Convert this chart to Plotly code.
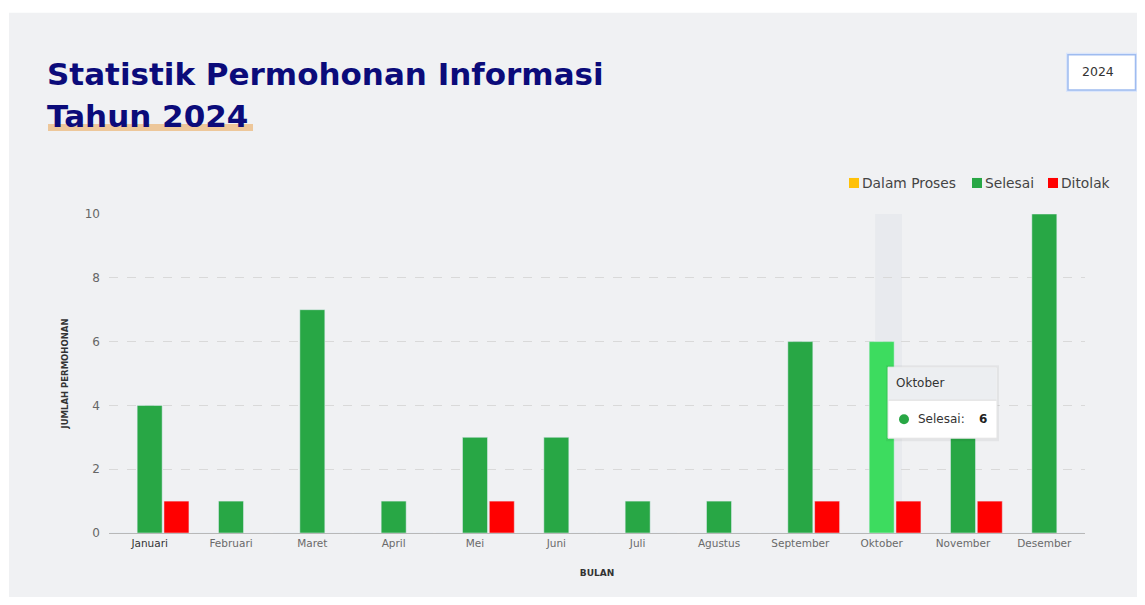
import plotly.graph_objects as go

months = ["Januari", "Februari", "Maret", "April", "Mei", "Juni", "Juli",
          "Agustus", "September", "Oktober", "November", "Desember"]
dalam_proses = [0, 0, 0, 0, 0, 0, 0, 0, 0, 0, 0, 0]
selesai = [4, 1, 7, 1, 3, 3, 1, 1, 6, 6, 3, 10]
ditolak = [1, 0, 0, 0, 1, 0, 0, 0, 1, 1, 1, 0]
y_ticks = [0, 2, 4, 6, 8, 10]

OFF = 8  # browser body margin
W, H = 1145 - OFF, 605 - 2 * OFF
L, T = 109 - OFF, 214 - OFF
R = W - L - 976
B = (605 - OFF) - 532.7
PW, PH = W - L - R, H - T - B


def xp(px):
    return (px - OFF - L) / PW


def yp(py):
    return (H - B - (py - OFF)) / PH


FONT = "DejaVu Sans, sans-serif"
C_Y, C_G, C_R = "#ffc107", "#28a745", "#ff0000"
hover_idx = months.index("Oktober")
green_colors = ["#3ddc5f" if i == hover_idx else C_G for i in range(len(months))]
tick_text = ["<span style='color:#333333'>%s</span>" % m if i == 0 else m for i, m in enumerate(months)]

fig = go.Figure()
fig.add_trace(go.Bar(x=months, y=dalam_proses, name="Dalam Proses", marker_color=C_Y))
fig.add_trace(go.Bar(x=months, y=selesai, name="Selesai", marker_color=green_colors))
fig.add_trace(go.Bar(x=months, y=ditolak, name="Ditolak", marker_color=C_R))

shapes = []
annotations = []

# page background panel
shapes.append(dict(type="rect", xref="paper", yref="paper", x0=xp(9), x1=xp(1150),
                   y0=yp(610), y1=yp(13), fillcolor="#f0f1f3", line_width=0, layer="below"))
# hover band
shapes.append(dict(type="rect", xref="x", yref="paper", x0=hover_idx - 0.08, x1=hover_idx + 0.25,
                   y0=0, y1=1, fillcolor="#e8eaee", line_width=0, layer="below"))
# title underline highlight
shapes.append(dict(type="rect", xref="paper", yref="paper", x0=xp(48), x1=xp(253),
                   y0=yp(131), y1=yp(124), fillcolor="#ecc089", opacity=0.85, line_width=0, layer="below"))

# titles
TFONT = dict(family=FONT, size=31, color="#0b0b7a")
annotations.append(dict(text="<b>Statistik Permohonan Informasi</b>", xref="paper", yref="paper",
                        x=xp(45), y=yp(74), xanchor="left", yanchor="middle", showarrow=False,
                        font=TFONT))
annotations.append(dict(text="<b>Tahun 2024</b>", xref="paper", yref="paper",
                        x=xp(45), y=yp(116), xanchor="left", yanchor="middle", showarrow=False,
                        font=TFONT))

# dropdown box
shapes.append(dict(type="rect", xref="paper", yref="paper", x0=xp(1066), x1=xp(1137),
                   y0=yp(92), y1=yp(53), fillcolor="#dbe6fb", line_width=0))
shapes.append(dict(type="rect", xref="paper", yref="paper", x0=xp(1068), x1=xp(1135.5),
                   y0=yp(90), y1=yp(55), fillcolor="#ffffff", line=dict(color="#9fbcf0", width=1.5)))
annotations.append(dict(text="2024", xref="paper", yref="paper", x=xp(1080), y=yp(72),
                        xanchor="left", yanchor="middle", showarrow=False,
                        font=dict(family=FONT, size=12.5, color="#333333")))

# custom legend
legend_items = [("Dalam Proses", C_Y, 849), ("Selesai", C_G, 972), ("Ditolak", C_R, 1048)]
for name, col, x0 in legend_items:
    shapes.append(dict(type="rect", xref="paper", yref="paper", x0=xp(x0), x1=xp(x0 + 10),
                       y0=yp(188), y1=yp(178), fillcolor=col, line_width=0))
    annotations.append(dict(text=name, xref="paper", yref="paper", x=xp(x0 + 11), y=yp(183),
                            xanchor="left", yanchor="middle", showarrow=False,
                            font=dict(family=FONT, size=13.8, color="#444444")))

# tooltip
shapes.append(dict(type="rect", xref="paper", yref="paper", x0=xp(886), x1=xp(999),
                   y0=yp(441), y1=yp(365), fillcolor="rgba(0,0,0,0.05)", line_width=0))
shapes.append(dict(type="rect", xref="paper", yref="paper", x0=xp(888), x1=xp(997),
                   y0=yp(438), y1=yp(367), fillcolor="#ffffff", line=dict(color="#e3e3e3", width=1)))
shapes.append(dict(type="rect", xref="paper", yref="paper", x0=xp(888.5), x1=xp(996.5),
                   y0=yp(400), y1=yp(367.5), fillcolor="#eceef1", line_width=0))
shapes.append(dict(type="line", xref="paper", yref="paper", x0=xp(888.5), x1=xp(996.5),
                   y0=yp(400), y1=yp(400), line=dict(color="#dddddd", width=1)))
shapes.append(dict(type="circle", xref="paper", yref="paper", x0=xp(899), x1=xp(909),
                   y0=yp(424), y1=yp(414), fillcolor=C_G, line_width=0))
annotations.append(dict(text=months[hover_idx], xref="paper", yref="paper", x=xp(894), y=yp(383),
                        xanchor="left", yanchor="middle", showarrow=False,
                        font=dict(family=FONT, size=12, color="#333333")))
annotations.append(dict(text="Selesai:", xref="paper", yref="paper", x=xp(916), y=yp(419),
                        xanchor="left", yanchor="middle", showarrow=False,
                        font=dict(family=FONT, size=12, color="#333333")))
annotations.append(dict(text="<b>%d</b>" % selesai[hover_idx], xref="paper", yref="paper", x=xp(977),
                        y=yp(419), xanchor="left", yanchor="middle", showarrow=False,
                        font=dict(family=FONT, size=12, color="#222222")))

fig.update_layout(
    width=W, height=H,
    margin=dict(l=L, r=R, t=T, b=B, pad=0),
    paper_bgcolor="#ffffff",
    plot_bgcolor="rgba(0,0,0,0)",
    barmode="group",
    bargap=0.012,
    bargroupgap=0.067,
    showlegend=False,
    font=dict(family=FONT, color="#555555"),
    shapes=shapes,
    annotations=annotations,
    xaxis=dict(
        showgrid=False, showline=True, linecolor="#b8b8b8", linewidth=1,
        tickmode="array", tickvals=months, ticktext=tick_text,
        tickfont=dict(family=FONT, size=10.5, color="#6a6a6a"),
        ticks="", fixedrange=True,
        title=dict(text="<b>BULAN</b>", font=dict(family=FONT, size=9, color="#333333"), standoff=22),
    ),
    yaxis=dict(
        range=[0, 10], tickvals=y_ticks, showgrid=True, gridcolor="#d9d9d9", griddash="dash",
        gridwidth=1, zeroline=False, showline=False,
        tickfont=dict(family=FONT, size=12, color="#666666"), ticks="", ticklabelstandoff=8,
        title=dict(text="<b>JUMLAH PERMOHONAN</b>", font=dict(family=FONT, size=8.5, color="#333333"),
                   standoff=14),
    ),
)

fig.write_html("out.html")
